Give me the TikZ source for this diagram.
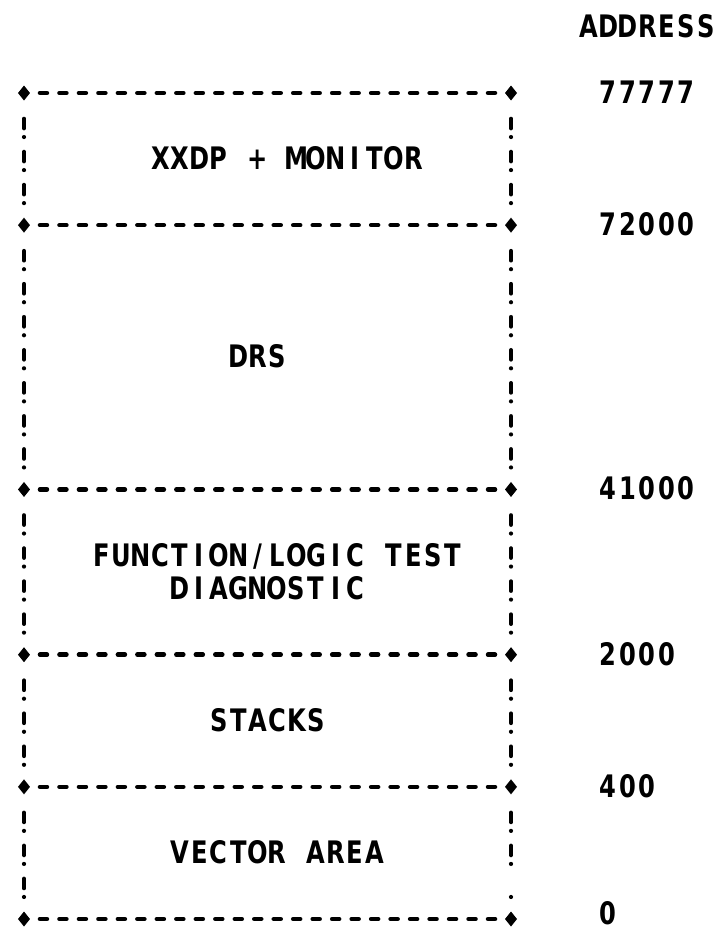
\documentclass[tikz,border=0pt]{standalone}
\usepackage{fontspec}
\usetikzlibrary{shapes.geometric}
\newfontfamily\plotfont[FakeStretch=0.78]{DejaVu Sans}
\newlength\gridpitch
\setlength\gridpitch{19.48pt}
\ExplSyntaxOn
\NewDocumentCommand \gridtext { m }
  { \str_map_inline:nn { #1 } { \makebox[\gridpitch][c]{##1} } }
\ExplSyntaxOff
\begin{document}
\begin{tikzpicture}[x=19.48pt, y=-33.04pt,
  corner/.style={diamond, fill=black, draw=none, inner sep=0pt, outer sep=0pt,
    minimum width=12pt, minimum height=15pt},
  hline/.style={line width=4.5pt, line cap=round, dash pattern=on 7pt off 12.48pt,
    shorten <=15.98pt, shorten >=15.98pt},
  vline/.style={line width=4.2pt, line cap=round,
    dash pattern=on 9.5pt off 8.75pt on 0pt off 14.79pt,
    shorten <=25.79pt, shorten >=20pt},
  gtext/.style={anchor=base west, inner sep=0pt, outer sep=0pt,
    font=\plotfont\bfseries\fontsize{31pt}{32pt}\selectfont, yshift=-10.5pt}
]
\fill[white] (-24pt,93pt) rectangle (700pt,-837pt);
\useasboundingbox (-24pt,93pt) rectangle (700pt,-837pt);

% corners of the memory map
\foreach \r [count=\i from 0] in {0,4,12,17,21,25} {
  \node[corner] (l\i) at (0,\r) {};
  \node[corner] (r\i) at (25,\r) {};
}

% horizontal dashed boundaries
\foreach \i in {0,...,5} { \draw[hline] (l\i.center) -- (r\i.center); }

% vertical "!" borders
\foreach \i/\j in {0/1,1/2,2/3,3/4,4/5} { \draw[vline] (l\i.center) -- (l\j.center); }
\foreach \i/\j in {0/1,1/2,2/3,3/4} { \draw[vline] (r\i.center) -- (r\j.center); }
\draw[vline, shorten >=52pt] (r4.center) -- (r5.center);
\fill ([yshift=-11pt]25,24) circle (2.1pt);

% region labels
\node[gtext] (xxdp) at (6.5,2) {\gridtext{XXDP + MONITOR}};
\node[gtext] (drs) at (10.5,8) {\gridtext{DRS}};
\node[gtext] (func) at (3.5,14) {\gridtext{FUNCTION/LOGIC TEST}};
\node[gtext] (diag) at (7.5,15) {\gridtext{DIAGNOSTIC}};
\node[gtext] (stacks) at (9.5,19) {\gridtext{STACKS}};
\node[gtext] (vector) at (7.5,23) {\gridtext{VECTOR AREA}};

% address column
\node[gtext] (addr) at (28.5,-2) {\gridtext{ADDRESS}};
\node[gtext] (a0) at (29.5,0) {\gridtext{77777}};
\node[gtext] (a1) at (29.5,4) {\gridtext{72000}};
\node[gtext] (a2) at (29.5,12) {\gridtext{41000}};
\node[gtext] (a3) at (29.5,17) {\gridtext{2000}};
\node[gtext] (a4) at (29.5,21) {\gridtext{400}};
\node[gtext, yshift=5pt] (a5) at (29.5,25) {\gridtext{0}};
\end{tikzpicture}
\end{document}
